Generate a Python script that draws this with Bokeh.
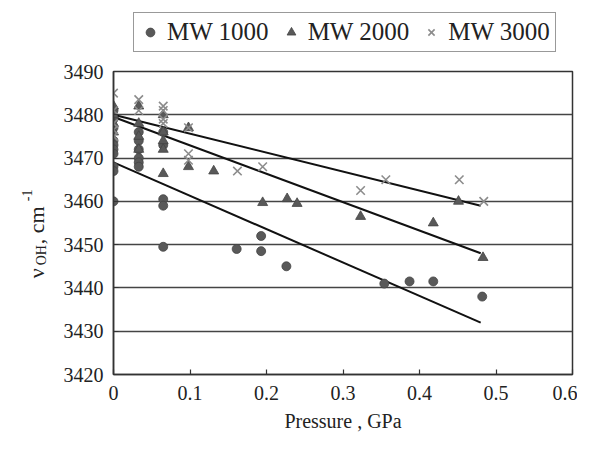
import math
from bokeh.plotting import figure
from bokeh.models import FixedTicker, Legend, Range1d
from bokeh.layouts import row, column
from bokeh.core.properties import value
from bokeh.embed import file_html
from bokeh.resources import INLINE

# ---- data ----
p1000 = [0, 0, 0, 0, 0, 0, 0, 0, 0, 0,
         0.033, 0.033, 0.033, 0.033, 0.033, 0.033,
         0.065, 0.065, 0.065, 0.065, 0.065,
         0.161, 0.193, 0.193, 0.226, 0.354, 0.387, 0.418, 0.482]
v1000 = [3481, 3479, 3477, 3474, 3473, 3472, 3471, 3468, 3467, 3460,
         3476, 3474, 3472, 3470, 3469, 3468,
         3476, 3473, 3460.5, 3459, 3449.5,
         3449, 3452, 3448.5, 3445, 3441, 3441.5, 3441.5, 3438]

p2000 = [0, 0, 0, 0,
         0.033, 0.033, 0.033, 0.033,
         0.065, 0.065, 0.065, 0.065, 0.065,
         0.098, 0.098, 0.131, 0.195, 0.227, 0.24, 0.323, 0.418, 0.451, 0.483]
v2000 = [3482, 3480, 3478, 3476,
         3482, 3478, 3475, 3472,
         3480, 3476, 3474, 3472, 3466.4,
         3477, 3468, 3467, 3459.7, 3460.6, 3459.5, 3456.5, 3455, 3460, 3447]

p3000 = [0, 0, 0, 0, 0,
         0.033, 0.033,
         0.065, 0.065, 0.065, 0.065,
         0.098, 0.098, 0.098, 0.162, 0.195, 0.323, 0.356, 0.452, 0.484]
v3000 = [3485, 3481, 3478, 3476.5, 3475,
         3483.5, 3481,
         3482, 3481, 3479, 3478,
         3477, 3471, 3469.5, 3467, 3468, 3462.5, 3465, 3465, 3460]

fit_x = [0, 0.48]
fit1000 = [3469, 3432]
fit2000 = [3479.5, 3448]
fit3000 = [3480, 3459]

series_labels = ["MW 1000", "MW 2000", "MW 3000"]
x_ticks = [0, 0.1, 0.2, 0.3, 0.4, 0.5, 0.6]
x_tick_labels = ["0", "0.1", "0.2", "0.3", "0.4", "0.5", "0.6"]
y_ticks = [3420, 3430, 3440, 3450, 3460, 3470, 3480, 3490]
x_title = "Pressure , GPa"
y_title_parts = ["ν", "OH", " , cm", "-1"]

FONT = "Liberation Serif"
TXT = "#222222"
W, H = 577, 434
TOP_H = 61          # height of the legend strip
LEFT_W = 50         # width of the y-title strip
MAIN_H = H - TOP_H
MAIN_W = W - LEFT_W

CIRC = dict(marker="circle", size=9, fill_color="#595959", line_color="#444444", line_width=0.8)
TRI = dict(marker="triangle", size=10, fill_color="#595959", line_color="#444444", line_width=0.8)
CROSS = dict(marker="x", size=12, line_color="#8c8c8c", line_width=1.6)

# ---------------- main plot ----------------
p = figure(width=MAIN_W, height=MAIN_H, x_range=(0, 0.6), y_range=(3420, 3490),
           output_backend="svg", toolbar_location=None,
           min_border_left=113 - LEFT_W, min_border_right=5,
           min_border_top=71 - TOP_H, min_border_bottom=58)

p.background_fill_color = "white"
p.border_fill_color = "white"
p.outline_line_color = "#333333"
p.outline_line_width = 1.5

p.xgrid.visible = False
p.ygrid.ticker = FixedTicker(ticks=y_ticks)
p.ygrid.grid_line_color = "#444444"
p.ygrid.grid_line_width = 1.5

p.xaxis.ticker = FixedTicker(ticks=x_ticks)
p.xaxis.major_label_overrides = {t: l for t, l in zip(x_ticks, x_tick_labels)}
p.yaxis.ticker = FixedTicker(ticks=y_ticks)

for ax in (p.xaxis[0], p.yaxis[0]):
    ax.axis_line_color = "#333333"
    ax.axis_line_width = 1.5
    ax.major_tick_in = 5
    ax.major_tick_out = 0
    ax.major_tick_line_color = "#333333"
    ax.major_tick_line_width = 1.2
    ax.minor_tick_line_color = None
    ax.major_label_text_font = FONT
    ax.major_label_text_font_size = "20px"
    ax.major_label_text_color = TXT

p.xaxis.major_label_standoff = 11
p.yaxis.major_label_standoff = 10
p.xaxis.axis_label = x_title
p.xaxis.axis_label_text_font = FONT
p.xaxis.axis_label_text_font_size = "20px"
p.xaxis.axis_label_text_font_style = "normal"
p.xaxis.axis_label_text_color = TXT
p.xaxis.axis_label_standoff = 7

for fy in (fit1000, fit2000, fit3000):
    p.line(fit_x, fy, line_color="#111111", line_width=2)

p.scatter(p1000, v1000, **CIRC)
p.scatter(p2000, v2000, **TRI)
p.scatter(p3000, v3000, **CROSS)

# ---------------- legend strip ----------------
lg = figure(width=W, height=TOP_H, x_range=Range1d(0, W), y_range=Range1d(0, TOP_H),
            output_backend="svg", toolbar_location=None,
            x_axis_type=None, y_axis_type=None,
            min_border_left=0, min_border_right=0, min_border_top=0, min_border_bottom=0)
lg.outline_line_color = None
lg.border_fill_color = "white"
# swatch renderers (their single point lies outside this strip's range)
k1 = lg.scatter(p1000[:1], v1000[:1], **CIRC)
k2 = lg.scatter(p2000[:1], v2000[:1], **TRI)
k3 = lg.scatter(p3000[:1], v3000[:1], **CROSS)
legend = Legend(items=[(series_labels[0], [k1]), (series_labels[1], [k2]),
                       (series_labels[2], [k3])],
                orientation="horizontal", location=(133, TOP_H - 52),
                label_text_font=FONT, label_text_font_size="25px",
                label_text_color=TXT, border_line_color="#333333",
                border_line_width=1.2, glyph_width=22, glyph_height=26,
                label_standoff=6, spacing=11, padding=5, margin=0,
                background_fill_alpha=1)
lg.add_layout(legend, "center")

# ---------------- y-title strip ----------------
yt = figure(width=LEFT_W, height=MAIN_H, x_range=Range1d(0, LEFT_W), y_range=Range1d(0, MAIN_H),
            output_backend="svg", toolbar_location=None,
            x_axis_type=None, y_axis_type=None,
            min_border_left=0, min_border_right=0, min_border_top=0, min_border_bottom=0)
yt.outline_line_color = None
yt.border_fill_color = "white"

ang = math.pi / 2
anchor_x = 36
anchor_y = MAIN_H / 2 - 68
pieces = [  # (text, screen dx across, screen offset along the text, font size)
    (y_title_parts[0], 0, 0, "22px"),
    (y_title_parts[1], 5, 13, "14px"),
    (y_title_parts[2], 0, 34, "22px"),
    (y_title_parts[3], -10, 77, "14px"),
]
for txt, dx, off, fs in pieces:
    yt.text(x=[anchor_x], y=[anchor_y], text=[txt], angle=ang,
            x_offset=dx, y_offset=-off,
            text_font=value(FONT), text_font_size=fs, text_color=TXT,
            text_baseline="alphabetic", text_align="left")

layout = column(lg, row(yt, p, spacing=0), spacing=0)
open("out.html", "w").write(file_html(layout, INLINE))
